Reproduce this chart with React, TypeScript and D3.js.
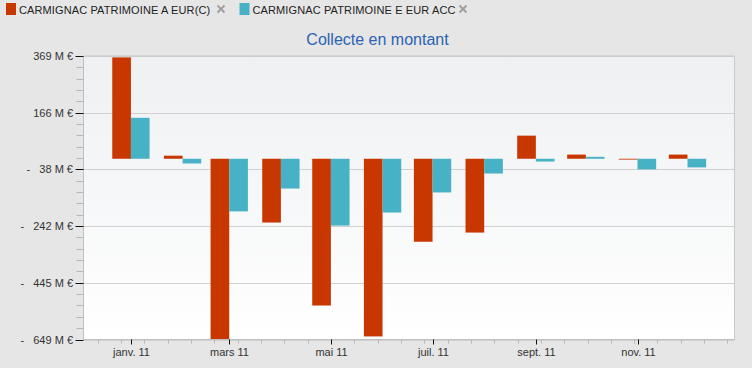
import React from "react";
import * as d3 from "d3";

const months: string[] = [
  "2011-01-01", "2011-02-01", "2011-03-01", "2011-04-01", "2011-05-01", "2011-06-01",
  "2011-07-01", "2011-08-01", "2011-09-01", "2011-10-01", "2011-11-01", "2011-12-01",
];
const seriesA: number[] = [364, 11, -648, -229, -527, -638, -298, -265, 83, 15, -3, 15];
const seriesE: number[] = [147, -17, -189, -107, -240, -193, -121, -53, -10, 7, -38, -31];
const seriesNames: string[] = ["CARMIGNAC PATRIMOINE A EUR(C)", "CARMIGNAC PATRIMOINE E EUR ACC"];
const seriesColors: string[] = ["#c83700", "#47b2c5"];
const yTickValues: number[] = [369, 166, -38, -242, -445, -649];
const xTickDates: string[] = ["2011-01-01", "2011-03-01", "2011-05-01", "2011-07-01", "2011-09-01", "2011-11-01"];
const xTickLabels: string[] = ["janv. 11", "mars 11", "mai 11", "juil. 11", "sept. 11", "nov. 11"];
const xDomain: [Date, Date] = [new Date(Date.UTC(2010, 11, 3, 13)), new Date(Date.UTC(2011, 11, 29, 5))];
const minorStart = new Date(Date.UTC(2010, 11, 12));
const DAY = 86400000;

const W = 752, H = 368;
const L = 83.5, R = 734.5, T = 56, B = 339.5;

function fmtY(v: number): string {
  const a = Math.abs(v);
  return v < 0 ? `-\u00A0\u00A0\u00A0${a} M €` : `${a} M €`;
}

export default function App() {
  const x = d3.scaleUtc().domain(xDomain).range([L, R]);
  const y = d3.scaleLinear().domain([-649, 369]).range([B, T]);
  const parse = (s: string) => new Date(s + "T00:00:00Z");
  const dayPx = x(new Date(xDomain[0].getTime() + DAY)) - x(xDomain[0]);
  const barW = (28 * dayPx * 0.8) / 2;
  const y0 = y(0);

  const yMinor: number[] = [];
  for (let i = 0; i < yTickValues.length - 1; i++) {
    const a = yTickValues[i], b = yTickValues[i + 1];
    for (let k = 1; k < 5; k++) yMinor.push(a + ((b - a) * k) / 5);
  }
  const xMinor: Date[] = [];
  for (let t = minorStart.getTime(); t < xDomain[1].getTime(); t += 14 * DAY) xMinor.push(new Date(t));

  const font = "'Liberation Sans', Arial, sans-serif";

  return (
    <svg width={W} height={H} style={{ position: "absolute", left: 0, top: 0 }} fontFamily={font}>
      <defs>
        <linearGradient id="pbg" x1="0" y1="0" x2="0" y2="1">
          <stop offset="0" stopColor="#eef0f2" />
          <stop offset="1" stopColor="#ffffff" />
        </linearGradient>
      </defs>
      <rect x={0} y={0} width={W} height={H} fill="#e6e6e6" />
      {/* legend */}
      {seriesNames.map((n, i) => {
        const lx = i === 0 ? 5 : 238.5;
        const cx = i === 0 ? 221 : 463;
        return (
          <g key={n}>
            <rect x={lx + 1} y={3} width={10} height={12} fill={seriesColors[i]} />
            <text x={lx + 14} y={14} fontSize={11} letterSpacing={0.12} fill="#222">{n}</text>
            <path d={`M${cx - 3.5},${5.5}L${cx + 3.5},${12.5}M${cx + 3.5},${5.5}L${cx - 3.5},${12.5}`} stroke="#a0a0a0" strokeWidth={2} />
          </g>
        );
      })}
      <text x={377.5} y={45} fontSize={16} textAnchor="middle" fill="#2a62b4">Collecte en montant</text>
      {/* plot area */}
      <rect x={L} y={T} width={R - L} height={B - T} fill="url(#pbg)" />
      {yTickValues.map((v) => (
        <line key={"g" + v} x1={L} x2={R} y1={Math.round(y(v)) + 0.5} y2={Math.round(y(v)) + 0.5} stroke="#d0d0d0" />
      ))}
      <line x1={L} x2={R} y1={T} y2={T} stroke="#c8c8c8" />
      <line x1={R} x2={R} y1={T} y2={B} stroke="#c8c8c8" />
      {/* bars */}
      {months.map((m, i) => {
        const cx = x(parse(m));
        const va = seriesA[i], ve = seriesE[i];
        return (
          <g key={m}>
            <rect x={cx - barW} width={barW} y={Math.min(y(va), y0)} height={Math.abs(y(va) - y0)} fill={seriesColors[0]} />
            <rect x={cx} width={barW} y={Math.min(y(ve), y0)} height={Math.abs(y(ve) - y0)} fill={seriesColors[1]} />
          </g>
        );
      })}
      {/* y axis */}
      <line x1={L} x2={L} y1={T} y2={B} stroke="#c0c0c0" />
      {yMinor.map((v, i) => (
        <line key={"ym" + i} x1={L - 7} x2={L} y1={Math.round(y(v)) + 0.5} y2={Math.round(y(v)) + 0.5} stroke="#b8b8b8" />
      ))}
      {yTickValues.map((v) => (
        <g key={"yt" + v}>
          <line x1={L - 8} x2={L} y1={Math.round(y(v)) + 0.5} y2={Math.round(y(v)) + 0.5} stroke="#111" />
          <text x={73} y={y(v) + 4} fontSize={11} textAnchor="end" fill="#333">{fmtY(v)}</text>
        </g>
      ))}
      {/* x axis */}
      <line x1={L} x2={R} y1={B} y2={B} stroke="#c0c0c0" />
      {xMinor.map((d, i) => (
        <line key={"xm" + i} x1={Math.round(x(d)) + 0.5} x2={Math.round(x(d)) + 0.5} y1={B} y2={B + 4} stroke="#b8b8b8" />
      ))}
      {xTickDates.map((s, i) => {
        const px = Math.round(x(parse(s))) + 0.5;
        return (
          <g key={s}>
            <line x1={px} x2={px} y1={B} y2={B + 5} stroke="#111" />
            <text x={px} y={356} fontSize={11} textAnchor="middle" fill="#333">{xTickLabels[i]}</text>
          </g>
        );
      })}
    </svg>
  );
}
